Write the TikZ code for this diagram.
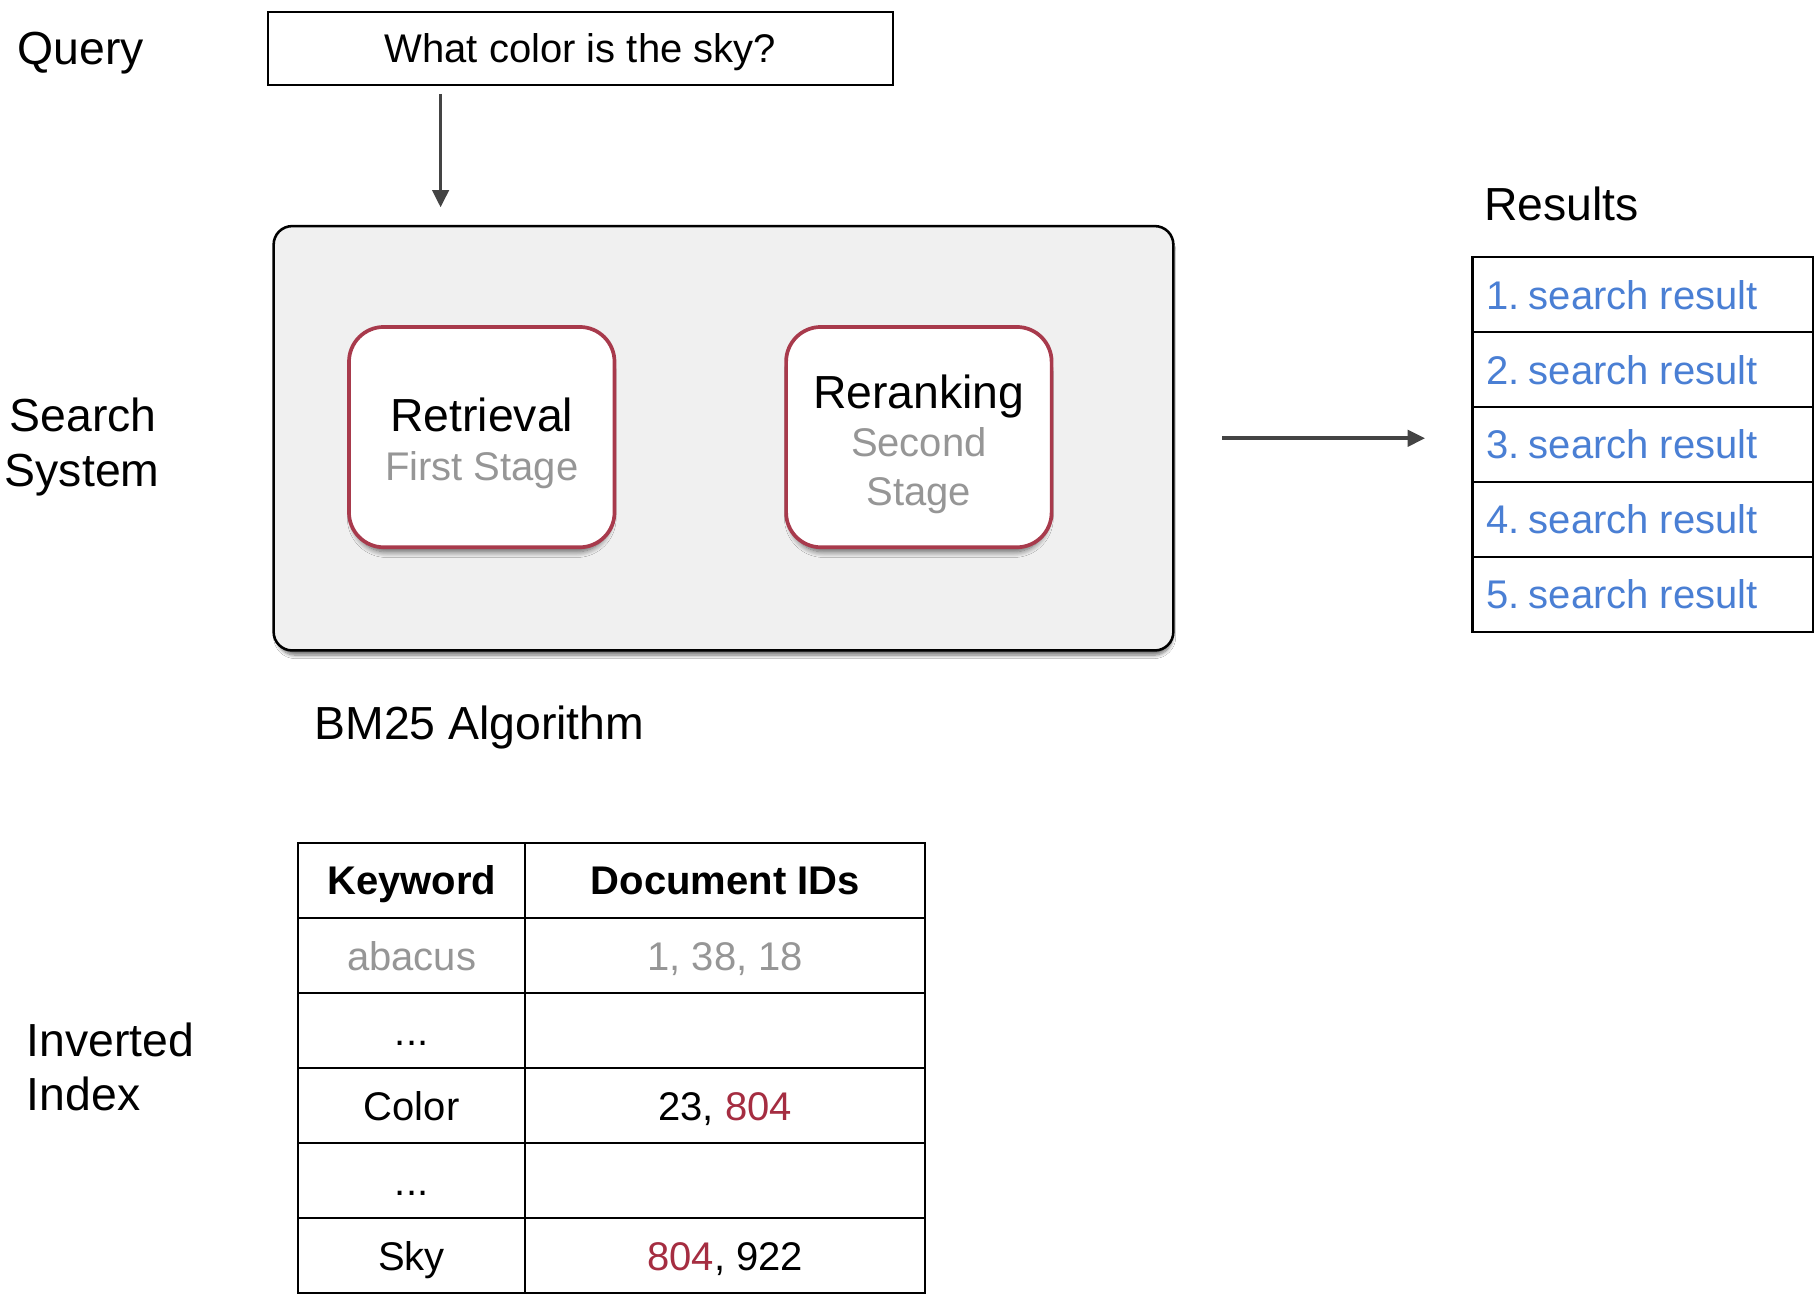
\documentclass[tikz,border=0pt]{standalone}
\usepackage{fontspec}
\setmainfont{Liberation Sans}
\usetikzlibrary{arrows.meta,shadows.blur}
\definecolor{boxgray}{RGB}{240,240,240}
\definecolor{redline}{RGB}{168,58,76}
\definecolor{resblue}{RGB}{74,127,212}
\definecolor{subgray}{RGB}{150,150,150}
\definecolor{rednum}{RGB}{165,45,65}
\definecolor{arrgray}{RGB}{68,68,68}
\newcommand{\fsL}{\fontsize{40}{48}\selectfont}
\newcommand{\fsM}{\fontsize{34.5}{42}\selectfont}
\tikzset{
  lbl/.style={inner sep=0pt, anchor=base west, font=\fsL},
  arr/.style={draw=arrgray, line width=3.2pt, -{Triangle[length=15pt,width=14pt]}},
  stagebox/.style={draw=redline, line width=3.2pt, fill=white, rounded corners=30pt,
     minimum width=229pt, minimum height=190pt, inner sep=0pt,
     blur shadow={shadow xshift=0pt, shadow yshift=-7pt, shadow scale=0.97, shadow blur steps=10, shadow blur radius=5pt, shadow opacity=60}},
  restxt/.style={inner sep=0pt, anchor=base west, font=\fsM, text=resblue},
  rescell/.style={draw=black, line width=1.8pt, minimum width=294pt, minimum height=64.6pt, inner sep=0pt},
  kcell/.style={draw=black, line width=1.8pt, minimum width=196pt, minimum height=64.7pt, inner sep=0pt,
     font=\fsM, text height=24.8pt, text depth=0pt},
  dcell/.style={draw=black, line width=1.8pt, minimum width=345pt, minimum height=64.7pt, inner sep=0pt,
     font=\fsM, text height=24.8pt, text depth=0pt},
}
\begin{document}
\begin{tikzpicture}[x=1pt,y=-1pt]
\useasboundingbox[fill=white] (0,0) rectangle (1568,1119.5);

% Query
\node[lbl] (qlabel) at (15,56) {Query};
\node[draw=black, line width=1.8pt, minimum width=539pt, minimum height=63pt, inner sep=0pt,
  font=\fsM, text height=24.8pt, text depth=0pt] (qbox) at (500.5,41.5) {What color is the sky?};

% Search system
\node[draw=black, line width=2.2pt, fill=boxgray, rounded corners=16pt,
  minimum width=776pt, minimum height=366pt, inner sep=0pt,
  blur shadow={shadow xshift=1pt, shadow yshift=-5pt, shadow scale=0.995, shadow blur steps=8, shadow blur radius=3pt, shadow opacity=55}]
  (sys) at (624,378) {};
\node[lbl] (slabel1) at (8,372) {Search};
\node[lbl] (slabel2) at (4,420) {System};

\node[stagebox] (ret) at (415.5,377) {};
\node[inner sep=0pt, anchor=base, font=\fsL] (rett) at (415.5,372) {Retrieval};
\node[inner sep=0pt, anchor=base, font=\fsM, text=subgray] (rets) at (415.5,414) {First Stage};

\node[stagebox] (rer) at (792.5,377) {};
\node[inner sep=0pt, anchor=base, font=\fsL] (rert) at (792.5,352) {Reranking};
\node[inner sep=0pt, anchor=base, font=\fsM, text=subgray] (rers1) at (792.5,394) {Second};
\node[inner sep=0pt, anchor=base, font=\fsM, text=subgray] (rers2) at (792.5,436) {Stage};

\coordinate (ax) at (380,0);
\draw[arr, shorten <=7pt, shorten >=15pt] (qbox.south -| ax) -- (sys.north -| ax);

% Results
\node[lbl] (rlabel) at (1280,190) {Results};
\foreach \i in {1,...,5}{
  \node[rescell] (res\i) at (1417,{222+64.6*(\i-0.5)}) {};
  \node[restxt] (rest\i) at (1282,{222+64.6*(\i-0.5)+12.3}) {\i.\hspace{0.22em}search result};
}
\draw[arr, shorten <=41pt, shorten >=40pt] (sys.east) -- (sys.east -| res3.west);

\node[lbl] (bm) at (271,638) {BM25 Algorithm};

% Inverted index
\node[lbl] (ilabel1) at (23,911) {Inverted};
\node[lbl] (ilabel2) at (23,958) {Index};

\node[kcell] (k0) at (355,759.5) {\bfseries Keyword};
\node[dcell] (d0) at (625.5,759.5) {\bfseries Document IDs};
\node[kcell, text=subgray] (k1) at (355,824.2) {abacus};
\node[dcell, text=subgray] (d1) at (625.5,824.2) {1, 38, 18};
\node[kcell] (k2) at (355,888.9) {...};
\node[dcell] (d2) at (625.5,888.9) {};
\node[kcell] (k3) at (355,953.6) {Color};
\node[dcell] (d3) at (625.5,953.6) {23, \textcolor{rednum}{804}};
\node[kcell] (k4) at (355,1018.3) {...};
\node[dcell] (d4) at (625.5,1018.3) {};
\node[kcell] (k5) at (355,1083) {Sky};
\node[dcell] (d5) at (625.5,1083) {\textcolor{rednum}{804}, 922};
\end{tikzpicture}
\end{document}
